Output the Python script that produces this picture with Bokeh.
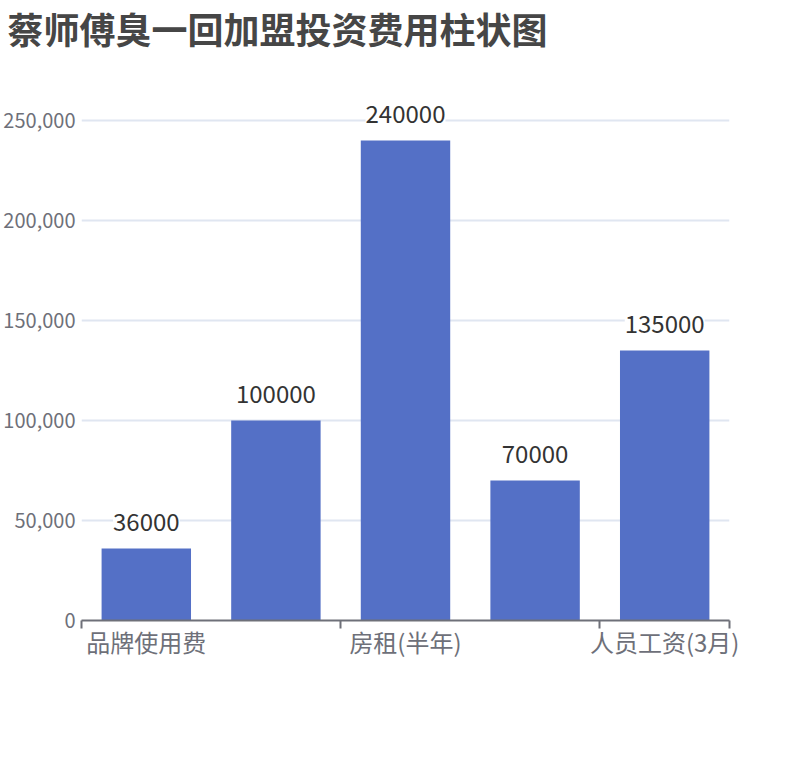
from bokeh.plotting import figure
from bokeh.models import FixedTicker, NumeralTickFormatter, Range1d, ColumnDataSource, LabelSet
from bokeh.core.properties import value
from bokeh.embed import file_html
from bokeh.resources import INLINE

title_text = "蔡师傅臭一回加盟投资费用柱状图"
categories = ["品牌使用费", "装修费用", "房租(半年)", "设备费用", "人员工资(3月)"]
values = [36000, 100000, 240000, 70000, 135000]
shown_label_idx = [0, 2, 4]
y_ticks = [0, 50000, 100000, 150000, 200000, 250000]
y_end = 265000

FONT = "Noto Sans CJK SC"
BAR = "#5470c6"
AXIS = "#6E7079"

x = list(range(len(categories)))
src = ColumnDataSource(dict(x=x, top=values, label=[str(v) for v in values]))

p = figure(width=800, height=750, output_backend="svg", toolbar_location=None,
           x_range=Range1d(-0.5, len(categories) - 0.5), y_range=Range1d(0, y_end),
           min_border_left=81, min_border_right=71, min_border_bottom=130, min_border_top=90)

p.title.text = title_text + "\n"
p.title.text_font = FONT
p.title.text_font_size = "36px"
p.title.text_font_style = "bold"
p.title.text_color = "#464646"
p.title.text_line_height = 0.68
p.title.align = "left"
p.title.vertical_align = "top"
p.title.standoff = 0
p.title.offset = -74

p.vbar(x="x", top="top", width=0.69, bottom=0, source=src, fill_color=BAR, line_color=None)

labels = LabelSet(x="x", y="top", text="label", source=src, text_align="center",
                  text_baseline="bottom", y_offset=18, text_font=value(FONT),
                  text_font_size="24px", text_color="#333333",
                  background_fill_color="white")
p.add_layout(labels)

xb = [-0.5] + [i + 1.5 for i in range(0, len(categories) - 1, 2)] + [len(categories) - 0.5]
p.xaxis.ticker = FixedTicker(ticks=shown_label_idx, minor_ticks=sorted(set(xb)))
p.xaxis.major_label_overrides = {i: categories[i] for i in shown_label_idx}
p.xaxis.major_tick_in = 0
p.xaxis.major_tick_out = 0
p.xaxis.minor_tick_in = 0
p.xaxis.minor_tick_out = 8
p.xaxis.minor_tick_line_color = AXIS
p.xaxis.minor_tick_line_width = 2
p.xaxis.axis_line_color = AXIS
p.xaxis.axis_line_width = 2
p.xaxis.major_label_text_font = FONT
p.xaxis.major_label_text_font_size = "24px"
p.xaxis.major_label_text_color = AXIS
p.xaxis.major_label_standoff = -5

p.yaxis.ticker = FixedTicker(ticks=y_ticks)
p.yaxis.formatter = NumeralTickFormatter(format="0,0")
p.yaxis.axis_line_color = None
p.yaxis.major_tick_line_color = None
p.yaxis.minor_tick_line_color = None
p.yaxis.major_label_text_font = FONT
p.yaxis.major_label_text_font_size = "20px"
p.yaxis.major_label_text_color = AXIS
p.yaxis.major_label_standoff = 0

p.xgrid.visible = False
p.ygrid.grid_line_color = "#E0E6F1"
p.ygrid.grid_line_width = 2
p.outline_line_color = None
p.background_fill_color = "white"
p.border_fill_color = "white"

open("out.html", "w").write(file_html(p, INLINE))
